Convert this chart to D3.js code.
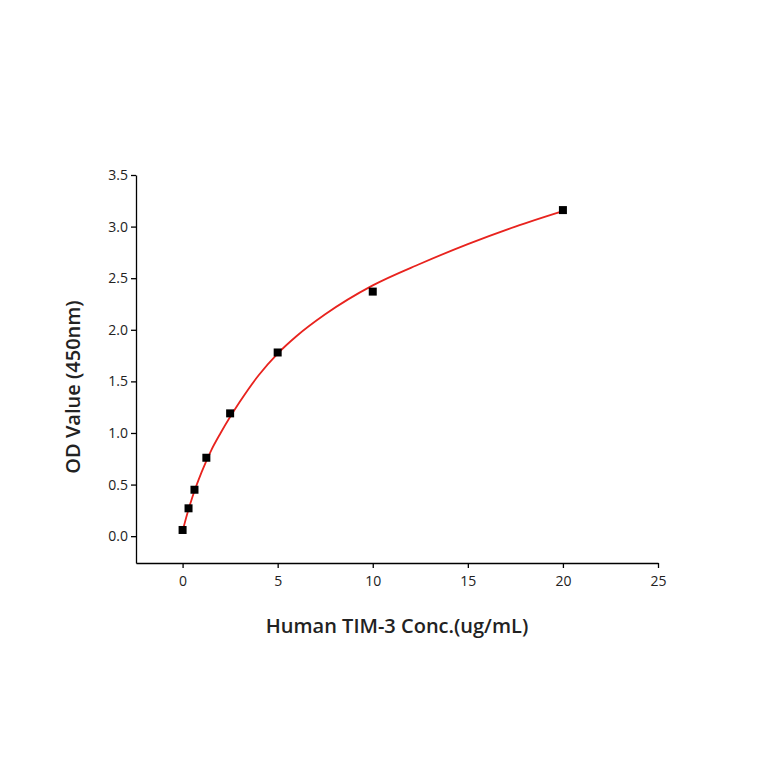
<!DOCTYPE html>
<html><head><meta charset="utf-8">
<script src="https://cdn.jsdelivr.net/npm/d3@7"></script>
<style>body{margin:0;background:#fff}</style></head>
<body><svg id="c" width="764" height="764"></svg>
<script>
// measured points
const conc = [0, 0.3125, 0.625, 1.25, 2.5, 5, 10, 20];
const od = [0.06, 0.27, 0.45, 0.76, 1.19, 1.78, 2.37, 3.16];
// fitted curve
const fitX = [0, 0.25, 0.5, 1, 1.5, 2, 3, 4, 5, 6, 7.5, 10, 12.5, 15, 17.5, 20];
const fitY = [0.05, 0.22, 0.37, 0.62, 0.83, 1.0, 1.3, 1.56, 1.77, 1.94, 2.15, 2.43, 2.64, 2.83, 3.0, 3.15];
const xTicks = [0, 5, 10, 15, 20, 25];
const yTicks = [0, 0.5, 1, 1.5, 2, 2.5, 3, 3.5];

const svg = d3.select("#c");
const x = d3.scaleLinear().domain([-2.45, 25]).range([136, 658]);
const y = d3.scaleLinear().domain([-0.26, 3.5]).range([563, 175]);
const font = "'Open Sans', sans-serif";

const xa = svg.append("g").attr("transform", "translate(0,563)")
	.call(d3.axisBottom(x).tickValues(xTicks).tickFormat(d3.format("d")).tickSize(5).tickSizeOuter(0));
const ya = svg.append("g").attr("transform", "translate(136,0)")
	.call(d3.axisLeft(y).tickValues(yTicks).tickFormat(d3.format(".1f")).tickSize(5).tickSizeOuter(0));
[xa, ya].forEach(a => {
	a.selectAll("path,line").attr("stroke", "#000").attr("stroke-width", 1.3);
	a.selectAll("text").attr("font-family", font).attr("font-size", 14).attr("fill", "#222");
});
xa.selectAll("text").attr("dy", "1.05em");

svg.append("path")
	.datum(fitX.map((v, i) => [v, fitY[i]]))
	.attr("fill", "none").attr("stroke", "#e8231e").attr("stroke-width", 1.8)
	.attr("d", d3.line().x(d => x(d[0])).y(d => y(d[1])).curve(d3.curveMonotoneX));

svg.selectAll("rect.pt").data(conc).join("rect").attr("class", "pt")
	.attr("x", d => x(d) - 4).attr("y", (d, i) => y(od[i]) - 4)
	.attr("width", 8).attr("height", 8).attr("fill", "#000");

svg.append("text").attr("x", 397).attr("y", 633).attr("text-anchor", "middle")
	.attr("font-family", font).attr("font-size", 20).attr("font-weight", 600).attr("fill", "#222")
	.text("Human TIM-3 Conc.(ug/mL)");
svg.append("text").attr("transform", "translate(80,387) rotate(-90)").attr("text-anchor", "middle")
	.attr("font-family", font).attr("font-size", 20).attr("font-weight", 600).attr("fill", "#222")
	.text("OD Value (450nm)");
</script></body></html>
